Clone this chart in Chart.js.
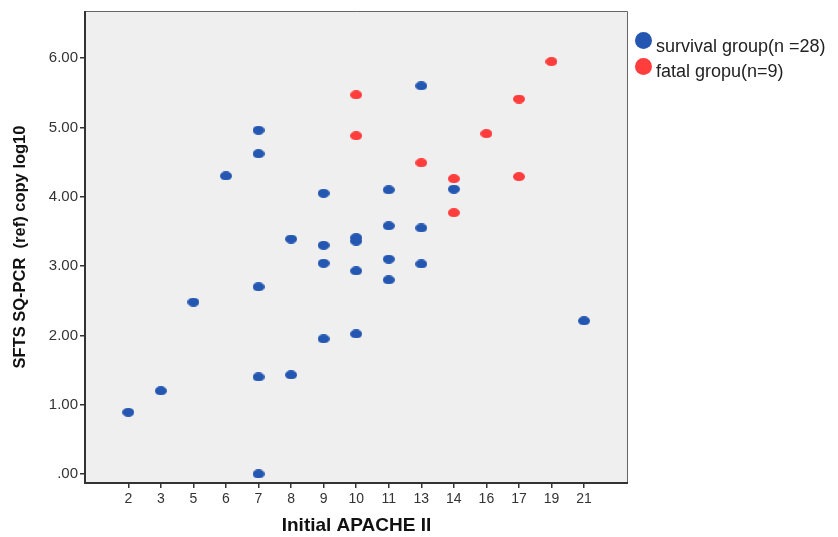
<!DOCTYPE html>
<html>
<head>
<meta charset="utf-8">
<script src="https://cdn.jsdelivr.net/npm/chart.js@4.4.0/dist/chart.umd.min.js"></script>
<style>
  html, body { margin: 0; padding: 0; background: #fff; }
  #wrap { position: relative; width: 838px; height: 537px; }
  #chart { position: absolute; left: 0; top: 0; }
  .legend-row { position: absolute; left: 635px; height: 20px; font: 18px "Liberation Sans", Arial, sans-serif; color: #222; white-space: nowrap; }
  .legend-row .dot { position: absolute; left: 0; width: 17px; height: 17px; border-radius: 50%; }
  .legend-row span { position: absolute; left: 21px; top: 0; line-height: 20px; }
</style>
</head>
<body>
<div id="wrap">
  <canvas id="chart" width="838" height="537"></canvas>
  <div class="legend-row" style="top:36px"><div class="dot" style="background:#2457b1; top:-4px"></div><span>survival group(n =28)</span></div>
  <div class="legend-row" style="top:61px"><div class="dot" style="background:#ff3d3d; top:-3px"></div><span>fatal gropu(n=9)</span></div>
</div>
<script>
// x categories (Initial APACHE II) - evenly spaced on the axis
const categories = [2, 3, 5, 6, 7, 8, 9, 10, 11, 13, 14, 16, 17, 19, 21];
const yTicks = [0, 1, 2, 3, 4, 5, 6];

// survival group (n=28)
const survivalX = [2, 3, 5, 6, 7, 7, 7, 7, 7, 8, 8, 9, 9, 9, 9, 10, 10, 10, 10, 11, 11, 11, 11, 13, 13, 13, 14, 21];
const survivalY = [0.89, 1.20, 2.48, 4.30, 4.96, 4.62, 2.70, 1.40, 0.00, 3.39, 1.43, 4.05, 3.30, 3.04, 1.95, 3.41, 3.36, 2.93, 2.02, 4.10, 3.58, 3.10, 2.80, 5.60, 3.55, 3.03, 4.11, 2.21];

// fatal group (n=9)
const fatalX = [10, 10, 13, 14, 14, 16, 17, 17, 19];
const fatalY = [5.47, 4.88, 4.49, 4.26, 3.77, 4.91, 5.41, 4.29, 5.95];

function toPoints(xs, ys) {
  return xs.map((x, i) => ({ x: categories.indexOf(x), y: ys[i] }));
}

// small ellipse markers like the SPSS output
function ellipseMarker(color) {
  const c = document.createElement('canvas');
  c.width = 12; c.height = 9;
  const g = c.getContext('2d');
  g.fillStyle = color;
  g.beginPath();
  g.ellipse(6, 4.5, 6, 4.5, 0, 0, Math.PI * 2);
  g.fill();
  return c;
}

const plotFrame = {
  id: 'plotFrame',
  beforeDraw(chart) {
    const { ctx, chartArea: a } = chart;
    ctx.save();
    ctx.fillStyle = '#efefef';
    ctx.fillRect(a.left, a.top, a.right - a.left, a.bottom - a.top);
    ctx.restore();
  },
  afterDraw(chart) {
    const { ctx, chartArea: a } = chart;
    ctx.save();
    ctx.strokeStyle = '#666';
    ctx.lineWidth = 1;
    ctx.beginPath();
    ctx.moveTo(a.left, a.top + 0.5);
    ctx.lineTo(a.right - 0.5, a.top + 0.5);
    ctx.lineTo(a.right - 0.5, a.bottom);
    ctx.stroke();
    ctx.strokeStyle = '#333';
    ctx.lineWidth = 2;
    ctx.beginPath();
    ctx.moveTo(a.left, a.top);
    ctx.lineTo(a.left, a.bottom);
    ctx.lineTo(a.right, a.bottom);
    ctx.stroke();
    ctx.restore();
  }
};

new Chart(document.getElementById('chart'), {
  type: 'scatter',
  data: {
    datasets: [{
      label: 'survival group(n =28)',
      data: toPoints(survivalX, survivalY),
      pointStyle: ellipseMarker('#2457b1'),
      backgroundColor: '#2457b1'
    }, {
      label: 'fatal gropu(n=9)',
      data: toPoints(fatalX, fatalY),
      pointStyle: ellipseMarker('#ff3d3d'),
      backgroundColor: '#ff3d3d'
    }]
  },
  options: {
    responsive: false,
    animation: false,
    layout: { padding: { left: 0, right: 210, top: 11, bottom: 0 } },
    plugins: { legend: { display: false }, tooltip: { enabled: false } },
    scales: {
      x: {
        type: 'linear',
        min: -1.33,
        max: 15.35,
        afterBuildTicks: s => { s.ticks = categories.map((c, i) => ({ value: i })); },
        afterFit: s => { s.height = 54; },
        ticks: {
          callback: v => categories[v],
          color: '#333',
          padding: 3,
          maxRotation: 0,
          font: { family: 'Liberation Sans', size: 14 }
        },
        grid: { drawOnChartArea: false, drawTicks: true, tickLength: 5, color: '#333', lineWidth: 1.5 },
        border: { display: false },
        title: {
          display: true,
          text: 'Initial APACHE II',
          color: '#111',
          padding: { top: 0, bottom: 0 },
          font: { family: 'Liberation Sans', size: 19, weight: 'bold', lineHeight: 1.2 }
        }
      },
      y: {
        min: -0.13,
        max: 6.68,
        afterBuildTicks: s => { s.ticks = yTicks.map(v => ({ value: v })); },
        afterFit: s => { s.width = 85; },
        ticks: {
          callback: v => v === 0 ? '.00' : v.toFixed(2),
          color: '#333',
          padding: 2,
          font: { family: 'Liberation Sans', size: 15 }
        },
        grid: { drawOnChartArea: false, drawTicks: true, tickLength: 5, color: '#333', lineWidth: 1.5 },
        border: { display: false },
        title: {
          display: true,
          text: 'SFTS SQ-PCR  (ref) copy log10',
          color: '#111',
          padding: { top: 11, bottom: 0 },
          font: { family: 'Liberation Sans', size: 16.5, weight: 'bold', lineHeight: 1.2 }
        }
      }
    }
  },
  plugins: [plotFrame]
});
</script>
</body>
</html>
